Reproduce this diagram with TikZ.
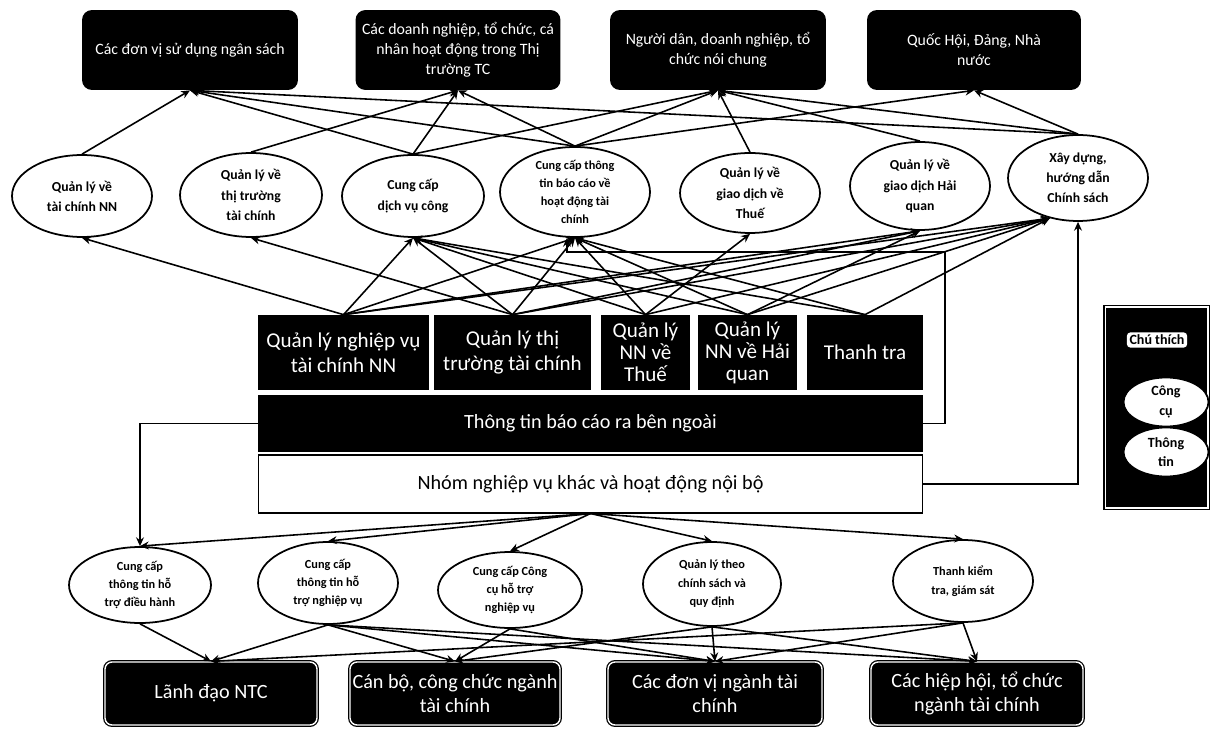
\documentclass[tikz,border=0pt]{standalone}
\usepackage{fontspec}
\setmainfont{Carlito}
\usetikzlibrary{shapes.geometric,arrows.meta,calc}
\begin{document}
\begin{tikzpicture}[x=0.02cm,y=-0.02cm,
  topbox/.style={rectangle,rounded corners=0.2cm,fill=black,text=white,align=center,inner sep=0pt,font=\fontsize{9}{11.5}\selectfont},
  tool/.style={ellipse,draw=black,line width=1pt,fill=white,align=center,inner sep=0pt,font=\bfseries\fontsize{7.8}{11.5}\selectfont},
  btool/.style={tool,font=\bfseries\fontsize{7}{10.5}\selectfont},
  midbox/.style={rectangle,fill=black,text=white,align=center,inner sep=0pt,font=\fontsize{12}{14}\selectfont},
  widebox/.style={rectangle,fill=black,text=white,align=center,inner sep=0pt,minimum width=13.3cm,font=\fontsize{11.5}{14}\selectfont},
  botbox/.style={rectangle,rounded corners=0.14cm,fill=black,draw=black,line width=0.7pt,double=white,double distance=0.8pt,text=white,align=center,inner sep=0pt,minimum width=4.24cm,minimum height=1.26cm,font=\fontsize{11.5}{13.5}\selectfont},
  arr/.style={-{Stealth[length=5pt,width=4.5pt]},line width=0.9pt}
]
\useasboundingbox (0,0) rectangle (1216,739);

% top boxes
\node[topbox,minimum width=4.32cm,minimum height=1.6cm] (B1) at (190,50) {Các đơn vị sử dụng ngân sách};
\node[topbox,minimum width=4.1cm,minimum height=1.6cm] (B2) at (458,50) {Các doanh nghiệp, tổ chức, cá\\nhân hoạt động trong Thị\\trường TC};
\node[topbox,minimum width=4.32cm,minimum height=1.6cm] (B3) at (718,50) {Người dân, doanh nghiệp, tổ\\chức nói chung};
\node[topbox,minimum width=4.28cm,minimum height=1.6cm] (B4) at (974,50) {Quốc Hội, Đảng, Nhà\\nước};

% top ellipses
\node[tool,minimum width=2.8cm,minimum height=1.64cm] (e1) at (82,196) {Quản lý về\\tài chính NN};
\node[tool,minimum width=2.84cm,minimum height=1.68cm] (e2) at (251,195) {Quản lý về\\thị trường\\tài chính};
\node[tool,minimum width=2.84cm,minimum height=1.64cm] (e3) at (413,196) {Cung cấp\\dịch vụ công};
\node[tool,minimum width=3.0cm,minimum height=1.6cm,font=\bfseries\fontsize{7}{10.3}\selectfont] (e4) at (575,192) {Cung cấp thông\\tin báo cáo về\\hoạt động tài\\chính};
\node[tool,minimum width=2.8cm,minimum height=1.6cm] (e5) at (750,193) {Quản lý về\\giao dịch về\\Thuế};
\node[tool,minimum width=2.8cm,minimum height=1.76cm] (e6) at (920,186) {Quản lý về\\giao dịch Hải\\quan};
\node[tool,minimum width=2.8cm,minimum height=1.72cm] (e7) at (1078,178) {Xây dựng,\\hướng dẫn\\Chính sách};

% middle boxes
\node[midbox,minimum width=3.42cm,minimum height=1.5cm] (A) at (343.5,352.5) {Quản lý nghiệp vụ\\tài chính NN};
\node[midbox,minimum width=3.14cm,minimum height=1.5cm] (B) at (512.5,352.5) {Quản lý thị\\trường tài chính};
\node[midbox,minimum width=1.78cm,minimum height=1.5cm,font=\fontsize{12}{12.5}\selectfont] (C) at (645.5,352.5) {Quản lý\\NN về\\Thuế};
\node[midbox,minimum width=1.98cm,minimum height=1.5cm,font=\fontsize{12}{12.5}\selectfont] (D) at (747.5,352.5) {Quản lý\\NN về Hải\\quan};
\node[midbox,minimum width=2.32cm,minimum height=1.5cm] (E) at (865,352.5) {Thanh tra};
\node[widebox,minimum height=1.14cm] (F) at (590.5,423.5) {Thông tin báo cáo ra bên ngoài};
\node[rectangle,draw=black,line width=0.6pt,fill=white,minimum width=13.3cm,minimum height=1.16cm,inner sep=0pt,font=\fontsize{11.5}{14}\selectfont] (G) at (590.5,484) {Nhóm nghiệp vụ khác và hoạt động nội bộ};

% bottom ellipses
\node[btool,minimum width=2.84cm,minimum height=1.52cm] (b1) at (140,585) {Cung cấp\\thông tin hỗ\\trợ điều hành};
\node[btool,minimum width=2.8cm,minimum height=1.64cm] (b2) at (328,583) {Cung cấp\\thông tin hỗ\\trợ nghiệp vụ};
\node[btool,minimum width=2.88cm,minimum height=1.52cm] (b3) at (510,590) {Cung cấp Công\\cụ hỗ trợ\\nghiệp vụ};
\node[btool,minimum width=2.76cm,minimum height=1.68cm] (b4) at (712,584) {Quản lý theo\\chính sách và\\quy định};
\node[btool,minimum width=2.8cm,minimum height=1.64cm] (b5) at (963,581) {Thanh kiểm\\tra, giám sát};

% bottom boxes
\node[botbox] (L1) at (211,693.5) {Lãnh đạo NTC};
\node[botbox,minimum width=4.2cm] (L2) at (455,693.5) {Cán bộ, công chức ngành\\tài chính};
\node[botbox,minimum width=4.28cm] (L3) at (715,693.5) {Các đơn vị ngành tài\\chính};
\node[botbox] (L4) at (977,693.5) {Các hiệp hội, tổ chức\\ngành tài chính};

% legend
\node[rectangle,fill=black,draw=black,line width=0.7pt,double=white,double distance=0.6pt,minimum width=2.06cm,minimum height=4.02cm,inner sep=0pt] (leg) at (1156.5,407.5) {};
\node[rectangle,rounded corners=2pt,fill=white,inner sep=1.5pt,font=\bfseries\fontsize{8}{9}\selectfont] (legt) at (1157,340) {Chú thích};
\node[tool,minimum width=1.7cm,minimum height=0.98cm,font=\bfseries\fontsize{8}{11}\selectfont] (lg1) at (1166,402) {Công\\cụ};
\node[tool,minimum width=1.7cm,minimum height=0.98cm,font=\bfseries\fontsize{8}{11}\selectfont] (lg2) at (1166,452) {Thông\\tin};

% ellipses -> top boxes
\foreach \a/\b in {e1/B1,e3/B1,e4/B1,e7/B1,e2/B2,e3/B2,e4/B2,e3/B3,e4/B3,e5/B3,e6/B3,e7/B3,e4/B4,e7/B4}
  \draw[arr] (\a.north) -- (\b.south);

% middle boxes -> ellipses
\foreach \a/\b in {A/e1,A/e3,A/e4,A/e6,B/e2,B/e3,B/e4,B/e6,C/e3,C/e4,C/e5,D/e3,D/e4,D/e6,E/e3,E/e4}
  \draw[arr] (\a.north) -- (\b.south);
\foreach \a in {A,B,C,D,E}
  \draw[arr] (\a.north) -- (e7.235);

% bracket connectors
\coordinate (k1) at (945,252);
\draw[arr] (F.east) -| (k1) -| ($(e4.south)+(-8,0)$);
\draw[arr] (F.west) -| (b1.north);
\draw[arr] (G.east) -| (e7.south);

% G -> bottom ellipses
\foreach \b in {b1,b2,b3,b4,b5}
  \draw[arr] (G.south) -- (\b.north);

% bottom ellipses -> bottom boxes
\foreach \a/\b in {b1/L1,b2/L1,b2/L2,b2/L3,b2/L4,b3/L2,b3/L3,b4/L2,b4/L3,b4/L4,b5/L1,b5/L3,b5/L4}
  \draw[arr] (\a.south) -- (\b.north);
\end{tikzpicture}
\end{document}
